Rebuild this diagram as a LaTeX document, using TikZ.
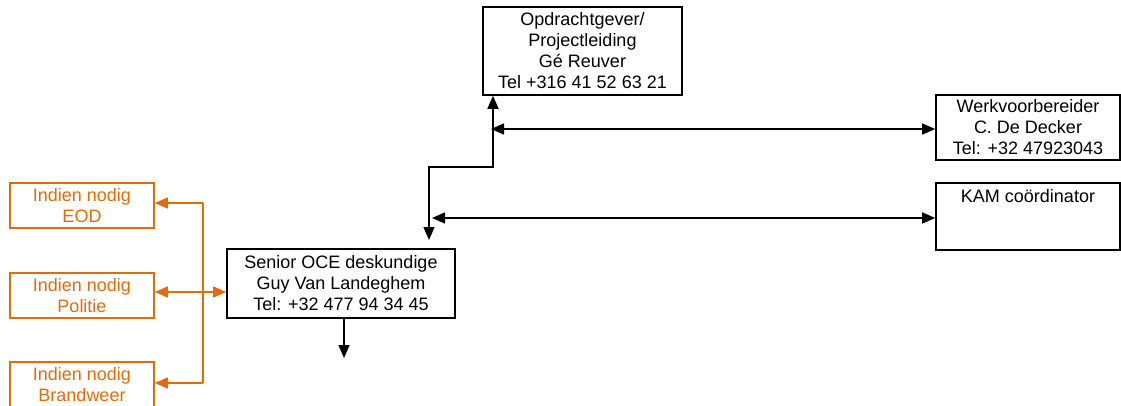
\documentclass[tikz,border=0pt]{standalone}
\usepackage{fontspec}
\setmainfont{Liberation Sans}
\usetikzlibrary{arrows.meta}
\definecolor{org}{HTML}{E36C0A}
\tikzset{
  box/.style={draw=black, line width=1.6pt, align=center, inner sep=0pt, font=\fontsize{18}{21}\selectfont},
  obox/.style={box, draw=org, text=org},
  con/.style={line width=1.4pt, {Triangle[length=13pt,width=11pt]}-{Triangle[length=13pt,width=11pt]}},
  one/.style={line width=1.4pt, -{Triangle[length=13pt,width=11pt]}},
  ocon/.style={con, draw=org, color=org},
  oone/.style={one, draw=org, color=org},
}
\begin{document}
\begin{tikzpicture}[x=1pt,y=-1pt]
\useasboundingbox (0,0) rectangle (1121,405);
\node[box, minimum width=199pt, minimum height=88pt] (op) at (582.5,51) {Opdrachtgever/\\Projectleiding\\Gé Reuver\\Tel +316 41 52 63 21};
\node[box, minimum width=184pt, minimum height=65pt] (wk) at (1028,127.5) {Werkvoorbereider\\C. De Decker\\Tel: +32 47923043};
\node[box, minimum width=184pt, minimum height=67pt] (kam) at (1028,216.5) {KAM coördinator\\~\\~};
\node[box, minimum width=228pt, minimum height=69pt] (sen) at (341,283.5) {Senior OCE deskundige\\Guy Van Landeghem\\Tel: +32 477 94 34 45};
\node[obox, minimum width=144pt, minimum height=45pt] (eod) at (82,205.5) {Indien nodig\\EOD};
\node[obox, minimum width=144pt, minimum height=45pt] (pol) at (82,295.5) {Indien nodig\\Politie};
\node[obox, minimum width=144pt, minimum height=45pt] (bw) at (82,384.5) {Indien nodig\\Brandweer};
% junctions
\coordinate (j1) at (493,167);
\coordinate (j2) at (429,167);
\coordinate (st) at (429,240);
\coordinate (h1) at (491,129);
\coordinate (h2) at (432,218);
\coordinate (sb) at (344,358);
\coordinate (ot) at (203,203);
\coordinate (ob) at (203,383);
\coordinate (om) at (203,292);
\draw[con] (op.south -| j1) -- (j1) -- (j2) -- (st);
\draw[con] (h1) -- (wk.west |- h1);
\draw[con] (h2) -- (kam.west |- h2);
\draw[one] (sen.south -| sb) -- (sb);
\draw[org, line width=1.4pt] (ot) -- (ob);
\draw[oone] (ot) -- (eod.east |- ot);
\draw[oone] (ob) -- (bw.east |- ob);
\draw[ocon] (pol.east |- om) -- (sen.west |- om);
\end{tikzpicture}
\end{document}
